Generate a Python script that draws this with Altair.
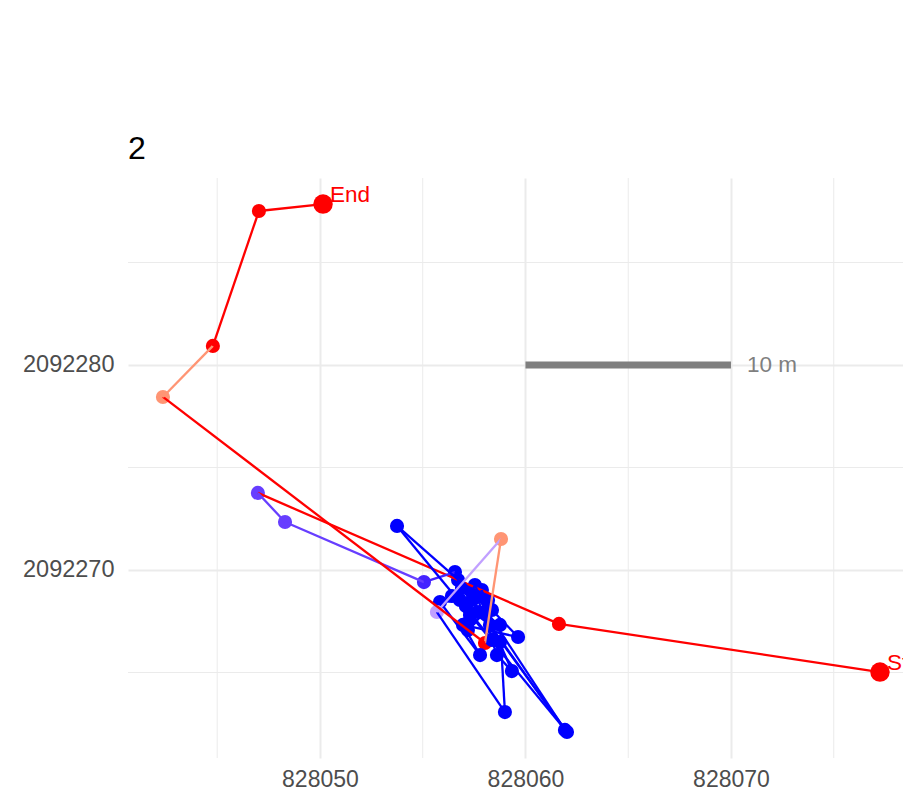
import altair as alt
import pandas as pd

# ---- data ----
xs = [828077.25, 828061.63, 828046.98, 828048.30, 828055.06, 828056.57, 828057.30,
      828053.75, 828062.02, 828056.91, 828058.37, 828059.64, 828056.96, 828057.79,
      828055.84, 828057.40, 828061.92, 828057.64, 828058.61, 828059.34, 828057.54,
      828057.10, 828058.18, 828058.03, 828057.20, 828056.72, 828058.76, 828058.27,
      828056.42, 828057.30, 828057.30, 828057.88, 828058.37, 828056.81, 828057.69,
      828058.76, 828059.00, 828055.69, 828058.81, 828058.03, 828042.36,
      828044.79, 828047.03, 828050.15]
ys = [2092265.02, 2092267.37, 2092273.76, 2092272.34, 2092269.41, 2092269.90, 2092269.02,
      2092272.15, 2092262.10, 2092269.12, 2092268.05, 2092266.73, 2092267.32, 2092265.85,
      2092268.44, 2092268.54, 2092262.20, 2092268.73, 2092265.85, 2092265.07, 2092269.27,
      2092268.24, 2092268.54, 2092267.95, 2092267.07, 2092269.51, 2092266.49, 2092267.32,
      2092268.73, 2092267.80, 2092267.56, 2092269.02, 2092266.59, 2092268.54, 2092267.95,
      2092267.32, 2092263.07, 2092267.95, 2092271.51, 2092266.44, 2092278.44,
      2092280.93, 2092287.51, 2092287.85]
vals = [1, 1, -0.82, -0.82, -0.92, -1, -1,
        -1, -1, -1, -1, -1, -1, -1,
        -1, -1, -1, -1, -1, -1, -1,
        -1, -1, -1, -1, -1, -1, -1,
        -1, -1, -1, -1, -1, -1, -1,
        -1, -1, -0.4, 0.55, 1, 0.55,
        1, 1, 1]

end_labels = ["Start", "End"]
x_major = [828050, 828060, 828070]
x_minor = [828045, 828055, 828065, 828075]
y_major = [2092270, 2092280]
y_minor = [2092265, 2092275, 2092285]
scalebar_x = [828060, 828070]
scalebar_y = 2092280
scalebar_label = "10 m"
title_text = "2"

# ---- tables ----
n = len(xs)
draw = list(range(n))
draw[n - 5] = -1  # the red fix inside the cluster sits underneath the blue ones
pts = pd.DataFrame({"x": xs, "y": ys, "v": vals, "draw": draw})
segs = pd.DataFrame({"x": xs[:-1], "y": ys[:-1], "x2": xs[1:], "y2": ys[1:], "v": vals[:-1]})
ends = pd.DataFrame({"x": [xs[0], xs[-1]], "y": [ys[0], ys[-1]], "v": [vals[0], vals[-1]],
                     "label": end_labels})
vgrid = pd.DataFrame({"x": x_minor})
hgrid = pd.DataFrame({"y": y_minor})
bar = pd.DataFrame({"x": [scalebar_x[0]], "x2": [scalebar_x[1]], "y": [scalebar_y],
                    "label": [scalebar_label]})

FONT = "Liberation Sans"
xscale = alt.Scale(domain=[828040.66, 828078.37], nice=False, zero=False)
yscale = alt.Scale(domain=[2092260.83, 2092289.12], nice=False, zero=False)
cscale = alt.Scale(domain=[-1, 0, 1], range=["#0000ff", "#ffffff", "#ff0000"], interpolate="lab")

xaxis = alt.Axis(values=x_major, format="d", title=None, domain=False, ticks=False,
                 grid=True, gridColor="#ebebeb", gridWidth=2, labelFontSize=23,
                 labelColor="#4d4d4d", labelFont=FONT, labelPadding=10)
yaxis = alt.Axis(values=y_major, format="d", title=None, domain=False, ticks=False,
                 grid=True, gridColor="#ebebeb", gridWidth=2, labelFontSize=23.5,
                 labelColor="#4d4d4d", labelFont=FONT, labelPadding=14)

base_axes = alt.Chart(pts).mark_point(opacity=0).encode(
    x=alt.X("x:Q", scale=xscale, axis=xaxis),
    y=alt.Y("y:Q", scale=yscale, axis=yaxis),
)

vminor = alt.Chart(vgrid).mark_rule(color="#ebebeb", strokeWidth=1).encode(x="x:Q")
hminor = alt.Chart(hgrid).mark_rule(color="#ebebeb", strokeWidth=1).encode(y="y:Q")

scalebar = alt.Chart(bar).mark_rule(color="#7f7f7f", strokeWidth=7).encode(
    x="x:Q", x2="x2:Q", y="y:Q")
scaletext = alt.Chart(bar).mark_text(align="left", baseline="middle", dx=16, fontSize=22.5,
                                     font=FONT, color="#7f7f7f").encode(
    x="x2:Q", y="y:Q", text="label:N")

points = alt.Chart(pts).mark_circle(size=200, opacity=1).encode(
    x="x:Q", y="y:Q", color=alt.Color("v:Q", scale=cscale, legend=None),
    order=alt.Order("draw:Q"))

lines = alt.Chart(segs).mark_rule(strokeWidth=2.3).encode(
    x="x:Q", y="y:Q", x2="x2:Q", y2="y2:Q",
    color=alt.Color("v:Q", scale=cscale, legend=None))

bigpts = alt.Chart(ends).mark_circle(size=380, opacity=1).encode(
    x="x:Q", y="y:Q", color=alt.Color("v:Q", scale=cscale, legend=None))

labels = alt.Chart(ends).mark_text(align="left", baseline="alphabetic", dx=7, dy=-2,
                                   fontSize=22.5, font=FONT, color="#ff0000").encode(
    x="x:Q", y="y:Q", text="label:N")

chart = alt.layer(base_axes, vminor, hminor, scalebar, scaletext, points, lines, bigpts, labels).properties(
    width=775, height=580,
    title=alt.TitleParams(title_text, anchor="start", fontSize=32, font=FONT, color="black",
                          fontWeight="normal", offset=12, frame="group"),
    autosize=alt.AutoSizeParams(type="none"),
    padding={"left": 120, "top": 170, "right": 0, "bottom": 36},
    background="white",
).configure_view(stroke=None, strokeWidth=0)

chart.save("out.html", embed_options={"renderer": "svg", "actions": False})
